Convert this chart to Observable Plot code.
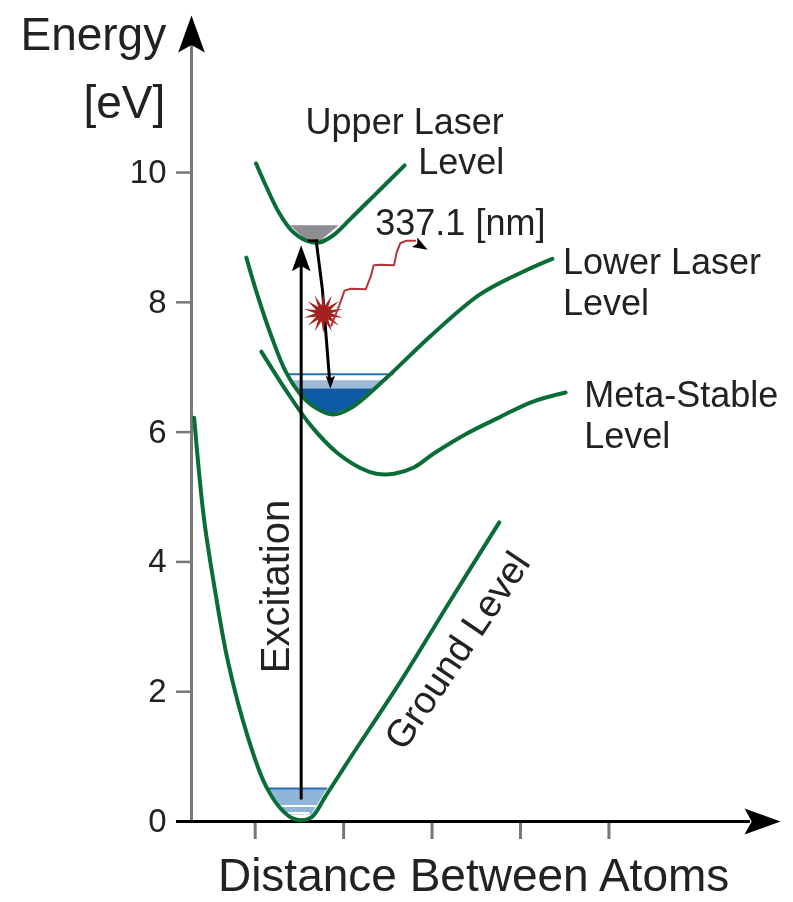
<!DOCTYPE html>
<html>
<head>
<meta charset="utf-8">
<script src="https://cdn.jsdelivr.net/npm/d3@7"></script>
<script src="https://cdn.jsdelivr.net/npm/@observablehq/plot@0.6"></script>
<style>
html,body{margin:0;padding:0;background:#fff}
svg{display:block;filter:blur(0.6px)}
</style>
</head>
<body>
<div id="chart"></div>
<script>
// Potential-energy curves: distance (arbitrary units), energy (eV)
const groundX = [.31,.42,.54,.69,.92,1.12,1.33,1.46,1.63,1.80,2.08,2.65,3.21,3.76];
const groundE = [6.22,4.68,3.61,2.48,1.29,.55,.14,.03,.06,.40,.99,2.17,3.41,4.61];
const upperX = [1.01,1.12,1.27,1.41,1.58,1.72,1.88,2.08,2.37,2.69];
const upperE = [10.14,9.80,9.38,9.11,8.95,8.92,9.03,9.29,9.68,10.11];
const lowerX = [.90,1.01,1.18,1.35,1.52,1.69,1.88,2.08,2.48,2.99,3.55,4.01,4.36];
const lowerE = [8.69,8.18,7.49,6.92,6.57,6.37,6.27,6.37,6.83,7.49,8.13,8.46,8.67];
const metaX = [1.07,1.35,1.63,1.92,2.20,2.37,2.57,2.80,3.02,3.41,3.75,4.12,4.51];
const metaE = [7.24,6.64,6.10,5.69,5.44,5.36,5.36,5.46,5.67,5.99,6.22,6.46,6.61];

// Populated bands in the wells
const upperWellX = [1.40,1.58,1.72,1.95];
const upperWellE = [9.18,8.95,8.92,9.18];
const lowerDarkX = [1.47,1.69,1.88,2.08,2.34];
const lowerDarkE = [6.67,6.37,6.27,6.37,6.67];
const lowerLightX = [1.41,1.47,2.34,2.48];
const lowerLightE = [6.79,6.67,6.67,6.79];
const groundWellX = [1.16,1.36,1.64,1.82];
const groundWellE = [.51,.10,.10,.51];

// Transitions
const excitationX = [1.52,1.52];
const excitationE = [.36,8.6];
const decayX = [1.69,1.76,1.84];
const decayE = [8.95,8.2,6.83];
const photonX = [1.86,1.95,2.01,2.08,2.25,2.31,2.34,2.42,2.57,2.60,2.64,2.71,2.81];
const photonE = [7.64,7.95,8.18,8.21,8.20,8.41,8.57,8.58,8.57,8.77,8.91,8.95,8.95];

const yTicks = [0,2,4,6,8,10];
const xTicks = [1,2,3,4,5];

const titleLabels = ["Energy","[eV]"];
const titleX = [-.83,-.48];
const titleE = [12.11,11.06];
const xTitle = ["Distance Between Atoms"];
const xTitleX = [3.47];
const xTitleE = [-.85];
const labelsMiddle = ["Upper Laser","Level","337.1 [nm]"];
const labelsMiddleX = [2.69,3.33,3.32];
const labelsMiddleE = [10.77,10.15,9.21];
const labelsStart = ["Lower Laser","Level","Meta-Stable","Level"];
const labelsStartX = [4.48,4.48,4.72,4.72];
const labelsStartE = [8.61,7.98,6.56,5.93];

const row = (xs, es) => xs.map((x,i)=>({x,e:es[i]}));
const green = "#0a6d38";
const ink = "#222";

const arrowHead = {draw(c,size){
  const l=Math.sqrt(size/Math.PI);
  c.moveTo(0,0); c.lineTo(.36*l,l); c.lineTo(0,.8*l); c.lineTo(-.36*l,l); c.closePath();
}};
const star = {draw(c,size){
  const l=Math.sqrt(size/Math.PI), n=14;
  for(let i=0;i<2*n;i++){
    const a=i*Math.PI/n, r=i%2?.4*l:l;
    const px=r*Math.sin(a), py=-r*Math.cos(a);
    if(i) c.lineTo(px,py); else c.moveTo(px,py);
  }
  c.closePath();
}};

const curve = (xs,es)=>Plot.line(row(xs,es),{x:"x",y:"e",stroke:green,strokeWidth:4,curve:"catmull-rom"});
const well = (xs,es,top,fill)=>Plot.areaY(row(xs,es),{x:"x",y1:()=>top,y2:"e",fill});
const labels = (texts,xs,es,opts)=>Plot.text(texts,{x:(d,i)=>xs[i],y:(d,i)=>es[i],text:d=>d,fill:ink,...opts});

const chart = Plot.plot({
  width:793,height:902,
  marginLeft:191,marginRight:13,marginTop:15,marginBottom:81,
  x:{domain:[.28,6.94]},
  y:{domain:[0,12.42]},
  style:{fontFamily:"'Liberation Sans',Arial,sans-serif",background:"#fff"},
  marks:[
    Plot.axisY({ticks:yTicks,tickSize:15,tickPadding:10,fontSize:33,label:null,stroke:"#777",strokeWidth:2.5,color:ink,fill:ink}),
    Plot.axisX({ticks:xTicks,tickSize:18,tickFormat:()=>"",label:null,stroke:"#777",strokeWidth:3}),
    Plot.ruleX([.28],{y1:0,y2:12,stroke:"#777",strokeWidth:3}),
    Plot.ruleY([0],{x1:.11,x2:6.6,stroke:"#000",strokeWidth:3}),
    Plot.dot([{x:6.94,e:0}],{x:"x",y:"e",symbol:arrowHead,r:36,rotate:90,fill:"#000",stroke:"none"}),
    Plot.dot([{x:.28,e:12.42}],{x:"x",y:"e",symbol:arrowHead,r:37,fill:"#000",stroke:"none"}),

    well(upperWellX,upperWellE,9.18,"#8d8d92"),
    well(lowerDarkX,lowerDarkE,6.67,"#0f5aa6"),
    well(lowerLightX,lowerLightE,6.79,"#9dbbd8"),
    well(groundWellX,groundWellE,.51,"#8fb6da"),
    Plot.ruleY([6.89],{x1:1.37,x2:2.57,stroke:"#2a6fb0",strokeWidth:2}),
    Plot.ruleY([.51],{x1:1.16,x2:1.82,stroke:"#2a6fb0",strokeWidth:2}),
    Plot.ruleY([.24],{x1:1.28,x2:1.70,stroke:"#fff",strokeWidth:2}),
    Plot.ruleY([.13],{x1:1.37,x2:1.62,stroke:"#fff",strokeWidth:2}),

    curve(groundX,groundE),
    curve(upperX,upperE),
    curve(lowerX,lowerE),
    curve(metaX,metaE),

    Plot.line(row(excitationX,excitationE),{x:"x",y:"e",stroke:"#000",strokeWidth:3}),
    Plot.dot([{x:1.52,e:8.88}],{x:"x",y:"e",symbol:arrowHead,r:26,fill:"#000",stroke:"none"}),
    Plot.ruleY([8.95],{x1:1.60,x2:1.72,stroke:"#000",strokeWidth:2.5}),
    Plot.line(row(decayX,decayE),{x:"x",y:"e",stroke:"#000",strokeWidth:3}),
    Plot.dot([{x:1.85,e:6.67}],{x:"x",y:"e",symbol:arrowHead,r:13,rotate:180,fill:"#000",stroke:"none"}),

    Plot.dot([{x:1.77,e:7.83}],{x:"x",y:"e",symbol:star,r:20,fill:"#a3221f",stroke:"none"}),
    Plot.line(row(photonX,photonE),{x:"x",y:"e",stroke:"#b5343a",strokeWidth:2}),
    Plot.dot([{x:2.95,e:8.81}],{x:"x",y:"e",symbol:arrowHead,r:15,rotate:120,fill:"#000",stroke:"none"}),

    labels(titleLabels,titleX,titleE,{fontSize:46,textAnchor:"middle"}),
    labels(xTitle,xTitleX,xTitleE,{fontSize:46,textAnchor:"middle"}),
    labels(labelsMiddle,labelsMiddleX,labelsMiddleE,{fontSize:36,textAnchor:"middle"}),
    labels(labelsStart,labelsStartX,labelsStartE,{fontSize:36,textAnchor:"start"}),
    labels(["Excitation"],[1.24],[3.62],{fontSize:40,rotate:-90}),
    labels(["Ground Level"],[3.29],[2.63],{fontSize:38,rotate:-56})
  ]
});
document.getElementById("chart").appendChild(chart);
</script>
</body>
</html>
